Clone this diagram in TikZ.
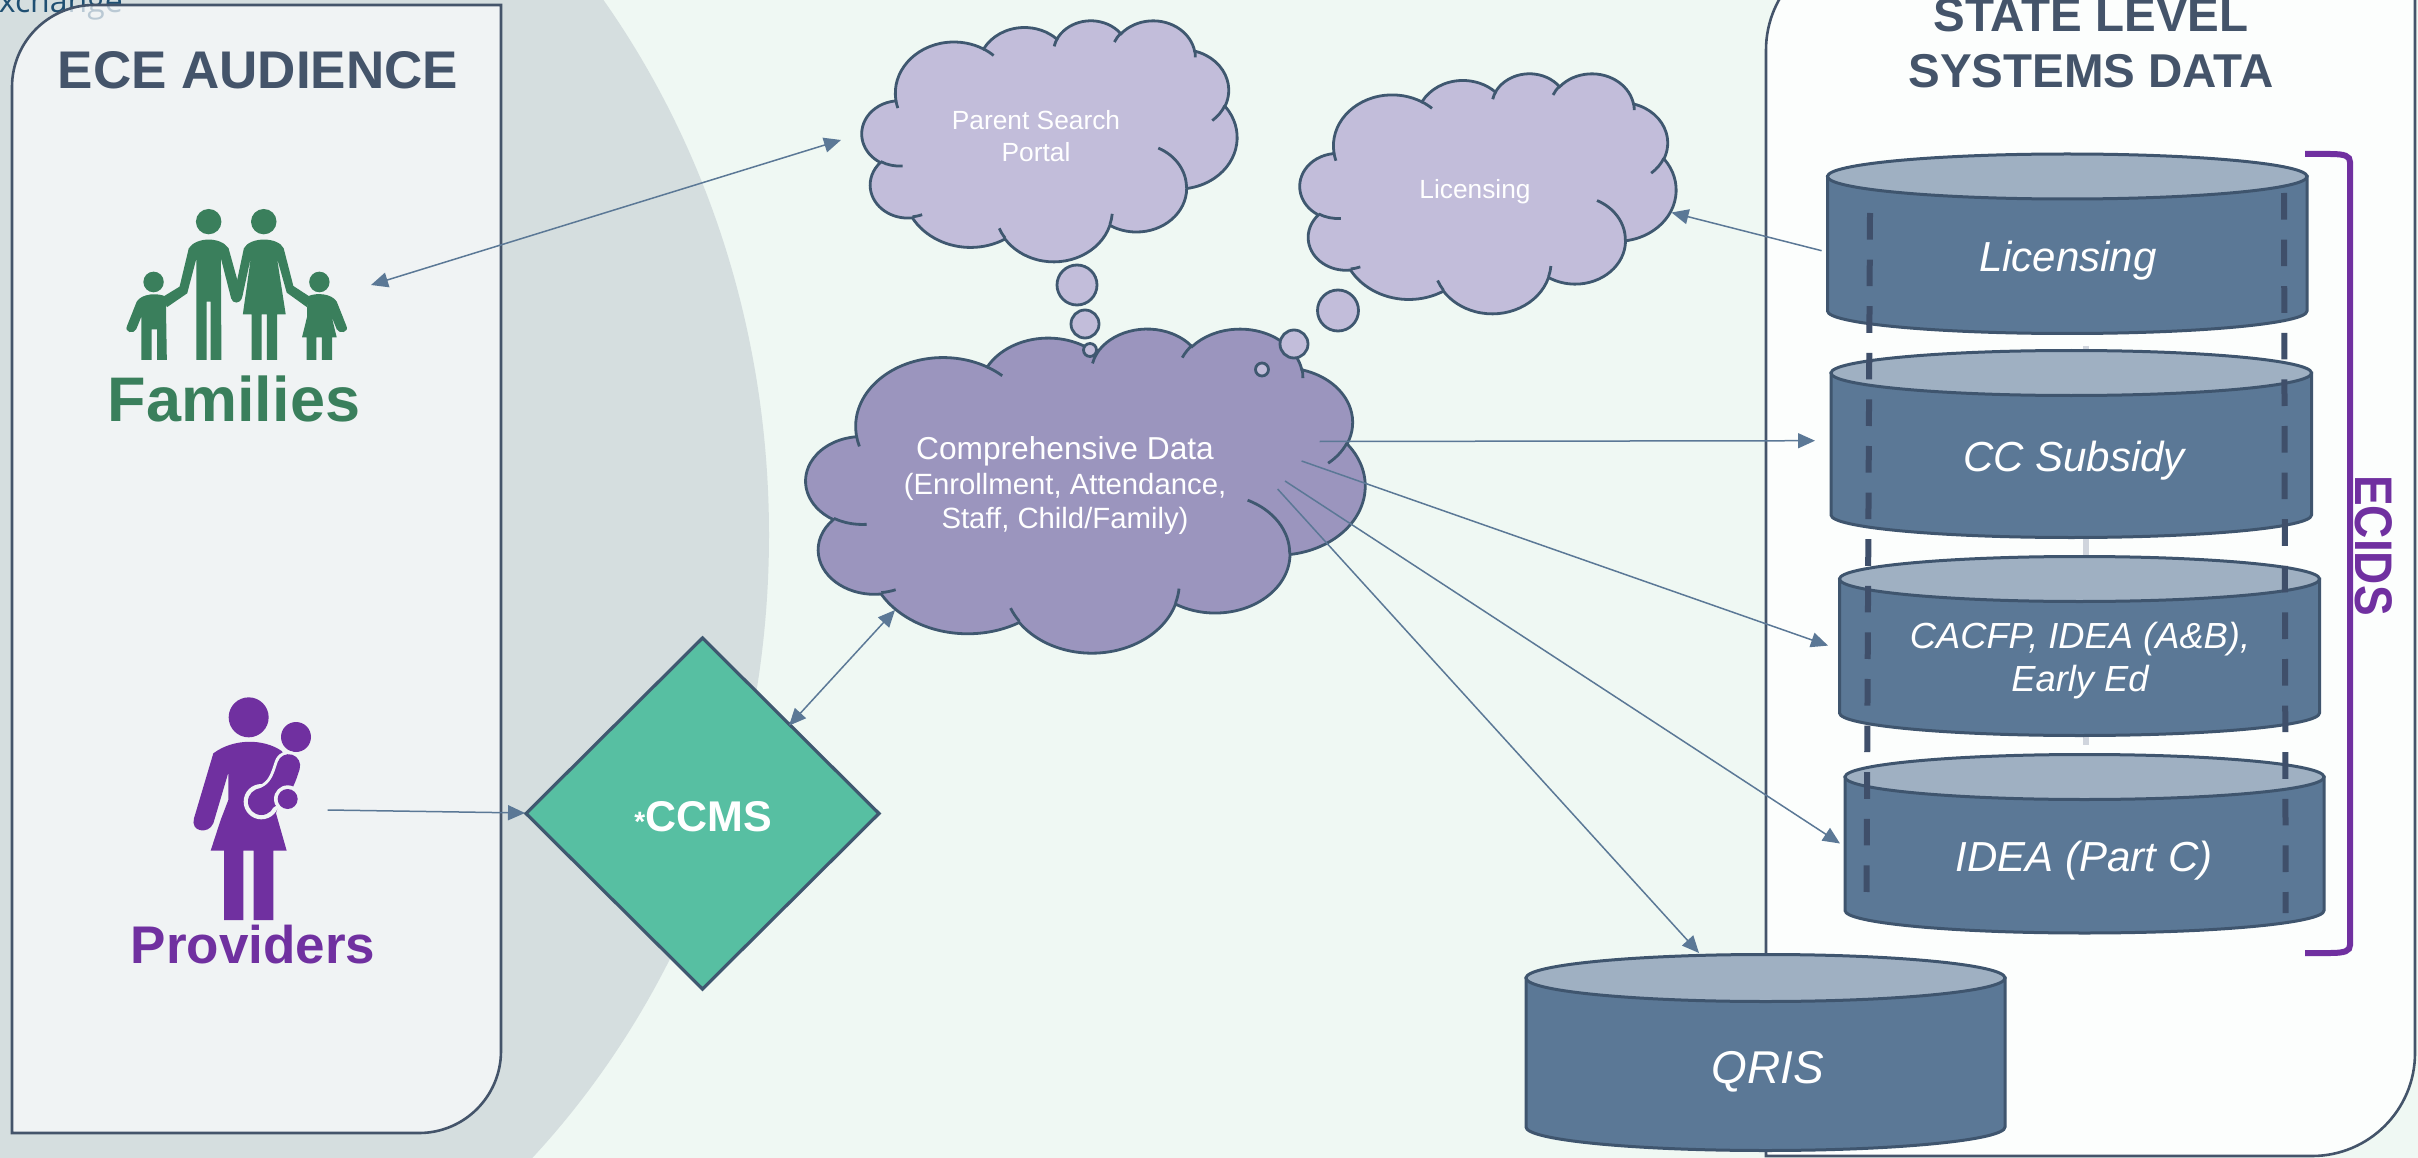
\documentclass[tikz,border=0pt]{standalone}
\usepackage{fontspec}
\setmainfont{Liberation Sans}
\newfontfamily\exfont{Open Sans}
\usetikzlibrary{arrows.meta}
\definecolor{bgc}{HTML}{EFF8F3}
\definecolor{arcgray}{HTML}{D5DEDF}
\definecolor{lpanel}{HTML}{FCFDFE}
\definecolor{panelseen}{HTML}{F0F4F5}
\definecolor{rpanel}{HTML}{FCFEFD}
\definecolor{edge}{HTML}{44546A}
\definecolor{cloudedge}{HTML}{3F5870}
\definecolor{cloudlight}{HTML}{C2BDDA}
\definecolor{cloudmain}{HTML}{9B95BE}
\definecolor{cylbody}{HTML}{5B7896}
\definecolor{cyltop}{HTML}{9FB0C2}
\definecolor{dbedge}{HTML}{3F556E}
\definecolor{dashc}{HTML}{3F4F6A}
\definecolor{ghost}{HTML}{D0D5DD}
\definecolor{greenc}{HTML}{3A7F5C}
\definecolor{purplec}{HTML}{7030A0}
\definecolor{teal}{HTML}{57BFA2}
\definecolor{exdark}{HTML}{1F4F72}
% PowerPoint cloud outline, in a 432 x 432 box
\makeatletter
\gdef\cmain{}\gdef\cinner{}
\newcommand\ooto[5]{% buffer, w, h, start, sweep
 \pgfmathsetmacro\sA{atan2(#2*sin(#4),#3*cos(#4))}%
 \pgfmathsetmacro\eA{atan2(#2*sin(#4+#5),#3*cos(#4+#5))}%
 \pgfmathsetmacro\eB{\eA<\sA?\eA+360:\eA}%
 \expandafter\xdef\csname #1\endcsname{\unexpanded\expandafter\expandafter\expandafter{\csname #1\endcsname} arc[x radius=#2pt,y radius=#3pt,start angle=\sA,end angle=\eB]}}
\newcommand\oomv[2]{\xdef\cinner{\unexpanded\expandafter{\cinner} (#1,#2)}}
\makeatother
\ooto{cmain}{67.53}{91.90}{-190.487}{123.781}
\ooto{cmain}{53.33}{72.67}{-144.102}{89.945}
\ooto{cmain}{43.65}{59.45}{-145.808}{99.723}
\ooto{cmain}{48.57}{65.95}{-130.986}{117.242}
\ooto{cmain}{53.33}{72.73}{-78.709}{109.027}
\ooto{cmain}{67.75}{92.20}{-46.267}{130.269}
\ooto{cmain}{57.85}{78.67}{0.625}{114.033}
\ooto{cmain}{67.52}{92.15}{22.452}{115.173}
\ooto{cmain}{77.20}{105.43}{66.243}{75.711}
\ooto{cmain}{43.60}{59.18}{-274.942}{146.736}
\ooto{cmain}{43.45}{59.45}{-246.829}{152.519}
\oomv{46.93}{261.77}\ooto{cinner}{43.45}{59.45}{86.742}{26.43}
\oomv{69.28}{348.99}\ooto{cinner}{43.60}{59.18}{73.61}{11.447}
\oomv{164.78}{390.90}\ooto{cinner}{67.52}{92.15}{137.62}{14.08}
\oomv{288.27}{347.51}\ooto{cinner}{67.52}{92.15}{6.453}{15.998}
\oomv{341.29}{229.54}\ooto{cinner}{57.85}{78.67}{-70.292}{70.917}
\oomv{417.98}{153.54}\ooto{cinner}{53.33}{72.73}{30.318}{27.75}
\oomv{383.24}{54.26}\ooto{cinner}{48.57}{65.95}{-13.744}{14.859}
\oomv{290.78}{39.52}\ooto{cinner}{48.57}{65.95}{-149.18}{18.195}
\oomv{221.41}{47.20}\ooto{cinner}{43.65}{59.45}{-163.494}{17.686}
\oomv{140.00}{51.92}\ooto{cinner}{67.53}{91.90}{-66.706}{10.83}
\oomv{41.27}{157.89}\ooto{cinner}{67.53}{91.90}{157.66}{11.85}
\tikzset{
 txt/.style={anchor=base,inner sep=0pt,outer sep=0pt,align=center},
 conn/.style={draw=cylbody,line width=1.5pt},
 onehead/.style={conn,-{Triangle[length=17pt,width=15pt,fill=cylbody]}},
 twohead/.style={conn,{Triangle[length=17pt,width=15pt,fill=cylbody]}-{Triangle[length=17pt,width=15pt,fill=cylbody]}},
 cloudline/.style={draw=cloudedge,line width=2.8pt},
 bubble/.style={cloudline,fill=cloudlight},
 dbline/.style={draw=dbedge,line width=3pt},
 dbtext/.style={txt,text=white,font=\fontsize{42}{52}\selectfont\itshape},
 idbar/.style={draw=dashc,line width=6pt,dash pattern=on 26.6pt off 20pt},
 paneledge/.style={draw=edge,line width=2.6pt},
}
\newcommand\makecloud[5]{% left, top, width, height, fill
 \begin{scope}[shift={(#1,#2)},x=1pt,y=1pt,xscale=#3/432,yscale=-#4/432]
  \path[cloudline,fill=#5] (39,143.7) \cmain -- cycle;
  \path[cloudline] \cinner;
 \end{scope}}
\newcommand\dbcyl[8]{% name, left, right, top centre, bottom centre, ry, text x, text
 \path[dbline,fill=cylbody] (#2,#4) -- (#2,#5) arc[start angle=180,end angle=360,x radius={(#3-#2)/2*1pt},y radius=#6pt] -- (#3,#4) -- cycle;
 \path[dbline,fill=cyltop] ({(#2+#3)/2},#4) ellipse[x radius={(#3-#2)/2*1pt},y radius=#6pt];
 \coordinate (#1) at ({(#2+#3)/2},{(#4+#5)/2});}
\begin{document}
\begin{tikzpicture}[x=1pt,y=-1pt]
\useasboundingbox (0,0) rectangle (2418,1158);
\begin{scope}
\clip (0,0) rectangle (2418,1158);
\fill[bgc] (0,0) rectangle (2418,1158);
\fill[arcgray] (-4,535) ellipse[x radius=773pt,y radius=865pt];
\node[anchor=base east,inner sep=0pt,text=exdark,font=\fontsize{32}{38}\selectfont\exfont] (exch) at (123,13) {Exchange};
% panels
\path[paneledge,fill=lpanel,fill opacity=.7,draw opacity=1]
  (12,1133) -- (12,87) arc[start angle=180,end angle=90,radius=82pt] -- (501,5) -- (501,1051)
  arc[start angle=0,end angle=-90,radius=82pt] -- cycle;
\path[paneledge,fill=rpanel]
  (1766,1156) -- (1766,50) arc[start angle=180,end angle=90,radius=103pt] -- (2415,-53) -- (2415,1053)
  arc[start angle=0,end angle=-90,radius=103pt] -- cycle;
\end{scope}
% titles
\node[txt,text=edge,font=\fontsize{53}{60}\selectfont\bfseries] (audience) at (258,89) {ECE AUDIENCE};
\node[txt,text=edge,font=\fontsize{47.5}{56}\selectfont\bfseries] (state1) at (2091,32) {STATE LEVEL};
\node[txt,text=edge,font=\fontsize{47.5}{56}\selectfont\bfseries] (state2) at (2091,88) {SYSTEMS DATA};
% family icon
\begin{scope}[xscale=0.5102,yscale=0.3333,fill=greenc]
 \fill (409,665) ellipse[x radius=25pt,y radius=38pt];
 \fill (517,665) ellipse[x radius=25pt,y radius=38pt];
 \fill (301,846) ellipse[x radius=20pt,y radius=31pt];
 \fill (626,846) ellipse[x radius=20pt,y radius=31pt];
 \fill (370,745) .. controls (385,710) and (433,710) .. (448,745) -- (467,850) -- (472,895)
   .. controls (472,912) and (455,912) .. (453,895) -- (433,775) -- (434,1080) -- (413,1080) -- (413,905) -- (405,905)
   -- (405,1080) -- (385,1080) -- (385,775) -- (367,880) -- (327,922) -- (320,890) -- (352,860) -- cycle;
 \fill (268,905) .. controls (278,880) and (310,878) .. (325,890) -- (327,1080) -- (308,1080) -- (308,988) -- (297,988)
   -- (297,1080) -- (277,1080) -- (277,950) -- (267,988) .. controls (262,1004) and (243,997) .. (249,978) -- cycle;
 \fill (478,745) .. controls (490,710) and (545,710) .. (556,745) -- (575,858) -- (607,890) -- (602,922) -- (562,878)
   -- (543,775) -- (560,943) -- (543,943) -- (543,1080) -- (523,1080) -- (523,943) -- (513,943) -- (513,1080) -- (493,1080)
   -- (493,943) -- (476,943) -- (492,770) -- (475,890) .. controls (472,912) and (456,912) .. (458,890) -- cycle;
 \fill (660,905) .. controls (650,880) and (620,878) .. (605,888) -- (602,922) -- (602,950) -- (592,1012) -- (601,1012) -- (601,1080)
   -- (620,1080) -- (620,1012) -- (631,1012) -- (631,1080) -- (651,1080) -- (651,1012) -- (660,1012) -- (650,950)
   -- (660,988) .. controls (665,1004) and (685,997) .. (679,978) -- cycle;
\end{scope}
\node[txt,text=greenc,font=\fontsize{63}{70}\selectfont\bfseries] (families) at (234,421) {Families};
% provider icon
\begin{scope}[shift={(100,650)},scale=1/3,fill=purplec]
 \fill (446,202) circle[radius=60pt];
 \fill (588,261) circle[radius=45pt];
 \fill (340,310) .. controls (400,265) and (490,265) .. (545,303) -- (570,340) -- (528,490) -- (560,602) -- (520,602) -- (520,810) -- (461,810)
   -- (461,602) -- (430,602) -- (430,810) -- (372,810) -- (372,602) -- (332,602) -- (362,510) -- (385,450) -- (385,368) -- (340,520)
   .. controls (325,555) and (270,545) .. (282,505) -- cycle;
 \fill[panelseen] (484,455) circle[radius=53pt];
 \draw[panelseen,line width=29pt,line cap=round] (566,347) .. controls (548,405) and (535,430) .. (486,450);
 \draw[purplec,line width=23pt,line cap=round] (566,347) .. controls (548,405) and (535,430) .. (486,450);
 \fill (484,455) circle[radius=40pt];
 \fill[panelseen] (563,447) circle[radius=41pt];
 \fill (563,447) circle[radius=30pt];
\end{scope}
\node[txt,text=purplec,font=\fontsize{53}{60}\selectfont\bfseries] (providers) at (253,963) {Providers};
% background bar behind the databases
\draw[ghost,line width=6pt] (2086,346) coordinate (g1) -- (2086,745) coordinate (g2);
% databases
\dbcyl{dbl}{1827.5}{2307}{176.5}{311}{22.5}{}{}
\dbcyl{dbc}{1831}{2311.5}{373}{515}{22.5}{}{}
\dbcyl{dba}{1839.5}{2319.5}{579}{713}{22.5}{}{}
\dbcyl{dbi}{1845}{2324}{777}{910.5}{22.5}{}{}
\dbcyl{dbq}{1526}{2005}{978}{1127}{23.5}{}{}
\node[dbtext] (tl) at (2068,271.7) {Licensing};
\node[dbtext] (tc) at (2074,471.7) {CC Subsidy};
\node[txt,text=white,font=\fontsize{36.3}{43}\selectfont\itshape] (ta1) at (2080,648) {CACFP, IDEA (A\&B),};
\node[txt,text=white,font=\fontsize{36.3}{43}\selectfont\itshape] (ta2) at (2080,691) {Early Ed};
\node[dbtext] (ti) at (2084,871) {IDEA (Part C)};
\node[txt,text=white,font=\fontsize{46}{52}\selectfont\itshape] (tq) at (1767.5,1083) {QRIS};
% ECIDS bars
\draw[idbar] (1870,213) coordinate (d1) -- (1866.5,893) coordinate (d2);
\draw[idbar] (2284,193) coordinate (d3) -- (2285.7,913) coordinate (d4);
% bracket
\draw[purplec,line width=6pt] (2305,154) coordinate (b1) -- (2330,154) .. controls (2345,154) and (2350,156) .. (2350,162)
   -- (2350,945) .. controls (2350,951) and (2345,953) .. (2330,953) -- (2305,953) coordinate (b2);
\node[anchor=center,inner sep=0pt,rotate=-90,yscale=1.15,text=purplec,font=\fontsize{46}{50}\selectfont\bfseries] (ecids) at (2374,545.5) {ECIDS};
% clouds
\makecloud{862}{20}{375}{241}{cloudlight}
\makecloud{1300}{73}{376}{240}{cloudlight}
\makecloud{806}{328}{559}{324}{cloudmain}
\draw[bubble] (1077,285) circle[radius=20pt];
\draw[bubble] (1085,324) circle[radius=14pt];
\draw[bubble] (1090,350) circle[radius=6.5pt];
\draw[bubble] (1338,310.5) circle[radius=20.5pt];
\draw[bubble] (1294,344) circle[radius=14pt];
\draw[bubble] (1262,369.5) circle[radius=6.5pt];
\node[txt,text=white,font=\fontsize{26.3}{32}\selectfont] (cp1) at (1036,130) {Parent Search};
\node[txt,text=white,font=\fontsize{26.3}{32}\selectfont] (cp2) at (1036,162) {Portal};
\node[txt,text=white,font=\fontsize{26.3}{32}\selectfont] (cl) at (1475,198.6) {Licensing};
\node[txt,text=white,font=\fontsize{31.7}{36}\selectfont] (cm1) at (1065,459) {Comprehensive Data};
\node[txt,text=white,font=\fontsize{29.3}{34}\selectfont] (cm2) at (1065,494) {(Enrollment, Attendance,};
\node[txt,text=white,font=\fontsize{29.3}{34}\selectfont] (cm3) at (1065,528) {Staff, Child/Family)};
% diamond
\path[draw=cloudedge,line width=3.2pt,fill=teal] (702.5,638) coordinate (ct) -- (879,813.5) coordinate (cr) -- (702.5,989) coordinate (cb) -- (526,813.5) coordinate (cleft) -- cycle;
\node[txt,text=white,font=\bfseries] (ccms) at (703,831) {\fontsize{28}{34}\selectfont*\fontsize{43}{50}\selectfont CCMS};
% connector ends
\coordinate (fam) at (371,285);
\coordinate (par) at (841,140);
\coordinate (licdb) at (1821.6,250.7);
\coordinate (liccl) at (1671.5,212.5);
\coordinate (m1) at (1319.6,441.5);
\coordinate (e1) at (1815,440.7);
\coordinate (m2) at (1301.6,461);
\coordinate (e2) at (1828,645.6);
\coordinate (m3) at (1285,481);
\coordinate (e3) at (1840,843.5);
\coordinate (m4) at (1277.6,489);
\coordinate (e4) at (1699,953);
\coordinate (dm) at (789,725.6);
\coordinate (cm) at (895,610);
\coordinate (pv) at (327.7,810);
\coordinate (dl) at (525,813);
\draw[twohead] (fam) -- (par);
\draw[onehead] (licdb) -- (liccl);
\draw[onehead] (m1) -- (e1);
\draw[onehead] (m2) -- (e2);
\draw[onehead] (m3) -- (e3);
\draw[onehead] (m4) -- (e4);
\draw[twohead] (dm) -- (cm);
\draw[onehead] (pv) -- (dl);
\end{tikzpicture}
\end{document}
